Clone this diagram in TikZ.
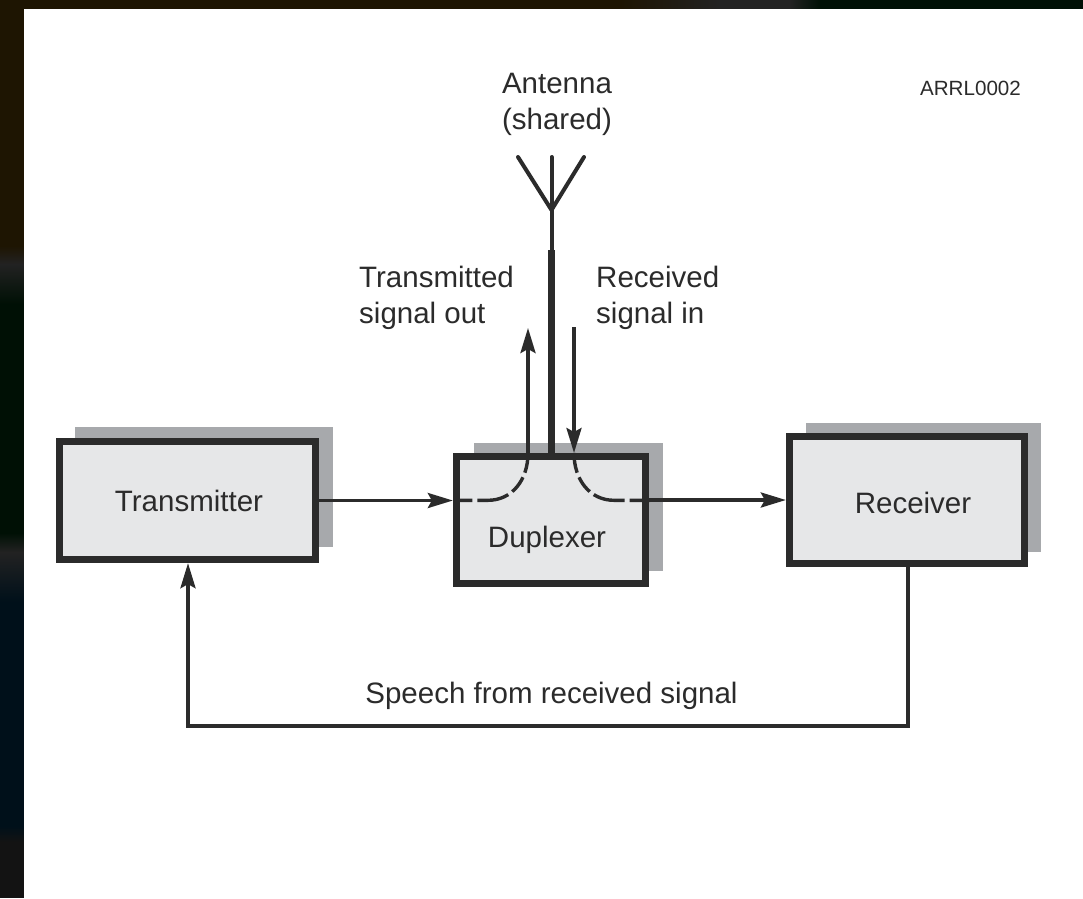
\documentclass[tikz,border=0pt]{standalone}
\usepackage{fontspec}
\setmainfont{Liberation Sans}
\usetikzlibrary{arrows.meta}
\definecolor{ink}{HTML}{2B2B2B}
\definecolor{boxfill}{HTML}{E6E7E8}
\definecolor{shade}{HTML}{A7A9AC}
\definecolor{brownbg}{HTML}{1E1502}
\definecolor{greenbg}{HTML}{001005}
\definecolor{navybg}{HTML}{00101A}
\definecolor{graybg}{HTML}{222222}
\definecolor{blackbg}{HTML}{131313}
\tikzset{
  x=1pt,y=-1pt,
  block/.style={draw=ink,fill=boxfill,line width=6.8pt,text=ink,inner sep=0pt},
  shadowbox/.style={fill=shade,inner sep=0pt,outer sep=0pt},
  caption/.style={text=ink,inner sep=0pt,font=\fontsize{29.5}{36}\selectfont,align=left},
  tag/.style={text=ink,inner sep=0pt,font=\fontsize{20.6}{24}\selectfont},
  wire/.style={draw=ink,line width=3.4pt},
  flow/.style={wire,-{Stealth[length=25pt,width=15pt,inset=4pt]}},
  dashcurve/.style={wire,dash pattern=on 20pt off 5pt on 18pt off 5pt on 32pt off 5pt on 22pt},
}
\begin{document}
\begin{tikzpicture}
\useasboundingbox (0,0) rectangle (1083,898);
% backdrop
\fill[brownbg] (0,0) rectangle (1083,9);
\fill[brownbg] (0,0) rectangle (24,246);
\shade[top color=brownbg,bottom color=graybg] (0,246) rectangle (24,264);
\shade[top color=graybg,bottom color=greenbg] (0,264) rectangle (24,304);
\fill[greenbg] (0,304) rectangle (24,533);
\shade[top color=greenbg,bottom color=graybg] (0,533) rectangle (24,552);
\shade[top color=graybg,bottom color=navybg] (0,552) rectangle (24,602);
\fill[navybg] (0,602) rectangle (24,826);
\shade[top color=navybg,bottom color=blackbg] (0,826) rectangle (24,842);
\fill[blackbg] (0,842) rectangle (24,898);
\shade[left color=brownbg,right color=graybg] (620,0) rectangle (720,9);
\fill[graybg] (720,0) rectangle (790,9);
\shade[left color=graybg,right color=greenbg] (790,0) rectangle (820,9);
\fill[greenbg] (820,0) rectangle (1083,9);
\fill[white] (24,9) rectangle (1083,898);

% shadows
\node[shadowbox,minimum width=258pt,minimum height=120pt] (txs) at (204,487) {};
\node[shadowbox,minimum width=189pt,minimum height=128pt] (dxs) at (568.5,507) {};
\node[shadowbox,minimum width=235pt,minimum height=129pt] (rxs) at (923.5,487.5) {};

% blocks
\node[block,minimum width=256.5pt,minimum height=118.5pt] (tx) at (187.5,500.5) {};
\node[block,minimum width=189.5pt,minimum height=127.5pt] (dx) at (551,520) {};
\node[block,minimum width=235.5pt,minimum height=127.5pt] (rx) at (907,500) {};
\node[caption] (txlabel) at (189,500.5) {Transmitter};
\node[caption] (dxlabel) at (547,539.5) {Duplexer};
\node[caption] (rxlabel) at (913,502.5) {Receiver};

% antenna
\coordinate (apex) at (551.5,210);
\coordinate (mastjoint) at (551.5,250);
\coordinate (forkl) at (518,157);
\coordinate (forkc) at (551.5,157);
\coordinate (forkr) at (584,157);
\draw[draw=ink,line width=7pt] (dx.north) -- (dx.north |- mastjoint);
\draw[draw=ink,line width=4pt,line cap=round,line join=round] (mastjoint) -- (forkc);
\draw[draw=ink,line width=4pt,line cap=round,line join=round] (forkl) -- (apex) -- (forkr);

% signal paths through the duplexer
\coordinate (outtip) at (528,328);
\coordinate (outfoot) at (528,453);
\coordinate (intop) at (574,327);
\coordinate (infoot) at (574,453);
\draw[flow] (outfoot) -- (outtip);
\draw[flow] (intop) -- (infoot);
\draw[dashcurve] (outfoot) .. controls (528,480) and (512,500.3) .. (488,500.3) -- (456,500.3);
\draw[dashcurve] (infoot) .. controls (574,480) and (590,500.3) .. (614,500.3) -- (650,500.3);

% block connectors
\draw[flow] (tx.east) -- (tx.east -| dx.west);
\draw[flow] (rx.west -| dx.east) -- (rx.west);
\coordinate (fbr) at (908,726);
\coordinate (fbl) at (188,726);
\draw[flow,line join=miter] (rx.south -| fbr) -- (fbr) -- (fbl) -- (tx.south -| fbl);

% labels
\node[caption,align=center] (antenna) at (557,104.5) {Antenna\\(shared)};
\node[caption,anchor=west] (txout) at (359,297.5) {Transmitted\\signal out};
\node[caption,anchor=west] (rxin) at (596,297.5) {Received\\signal in};
\node[caption] (speech) at (551.5,696) {Speech from received signal};
\node[tag] (code) at (970.5,88) {ARRL0002};
\end{tikzpicture}
\end{document}
